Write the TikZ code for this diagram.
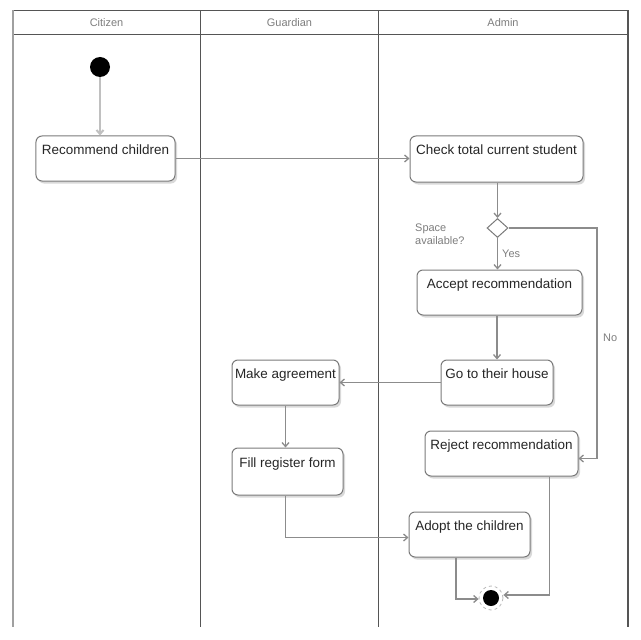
\documentclass[tikz,border=0pt]{standalone}
\usepackage{fontspec}
\setmainfont{Liberation Sans}
\usetikzlibrary{arrows.meta,shapes.geometric,shadows}
\definecolor{lane}{HTML}{555555}
\definecolor{laneleft}{HTML}{A0A0A0}
\definecolor{boxline}{HTML}{7A7A7A}
\definecolor{flow}{HTML}{8C8C8C}
\definecolor{note}{HTML}{7E7E7E}
\definecolor{boxtext}{HTML}{262626}
\tikzset{
  lanerule/.style={draw=lane, line width=1.5bp},
  lanehead/.style={font=\fontsize{11}{13}\selectfont, text=note},
  action/.style={draw=boxline, line width=1bp, rounded corners=6bp, fill=white,
    minimum height=45bp, text height=12bp, text depth=20bp, inner ysep=6.5bp, inner xsep=2bp,
    font=\fontsize{13.5}{15}\selectfont, text=boxtext,
    drop shadow={shadow xshift=2bp, shadow yshift=-2.5bp, opacity=0.15, fill=black}},
  flowline/.style={draw=flow, line width=1.3bp, -{Straight Barb[length=4bp,width=7bp]}},
  guard/.style={font=\fontsize{11}{12.5}\selectfont, text=note, inner sep=0pt},
}
\begin{document}
\begin{tikzpicture}[x=1bp, y=-1bp]
  \useasboundingbox (0,0) rectangle (640,640);
  \fill[white] (0,0) rectangle (640,640);

  % swimlane frame
  \draw[lanerule] (13,10.5) -- (628,10.5);
  \draw[lanerule] (13,34.5) -- (628,34.5);
  \draw[draw=laneleft, line width=2bp] (13,10.5) -- (13,627);
  \draw[lanerule] (200.5,10.5) -- (200.5,627);
  \draw[lanerule] (378.5,10.5) -- (378.5,627);
  \draw[lanerule] (628,10.5) -- (628,627);
  \node[lanehead] (hcitizen) at (106.5,22.5) {Citizen};
  \node[lanehead] (hguardian) at (289.5,22.5) {Guardian};
  \node[lanehead] (hadmin) at (503,22.5) {Admin};

  % start and end
  \node[circle, fill=black, minimum size=20bp, inner sep=0pt] (start) at (100,67) {};
  \node[circle, draw=flow!60, dashed, line width=0.8bp, minimum size=24bp, inner sep=0pt] (fin) at (491,598) {};
  \node[circle, fill=black, minimum size=16bp, inner sep=0pt] (fincore) at (491,598) {};

  % actions
  \node[action, minimum width=139bp] (rec) at (105.5,158.5) {Recommend children};
  \node[action, minimum width=173bp, minimum height=46bp] (check) at (496.5,159) {Check total current student};
  \node[action, minimum width=165bp] (accept) at (499.5,292.5) {Accept recommendation};
  \node[action, minimum width=112bp] (go) at (497,382.5) {Go to their house};
  \node[action, minimum width=107bp] (make) at (285.5,382.5) {Make agreement};
  \node[action, minimum width=153bp] (reject) at (501.5,453.5) {Reject recommendation};
  \node[action, minimum width=111bp, minimum height=47bp] (fill) at (287.5,471.5) {Fill register form};
  \node[action, minimum width=121bp] (adopt) at (469.5,534.5) {Adopt the children};

  % decision
  \node[diamond, draw=boxline, line width=1bp, fill=white, minimum width=21bp, minimum height=19bp,
        inner sep=0pt, aspect=1.1] (dia) at (497.5,228) {};
  \node[guard, anchor=north west, align=left] (qspace) at (415,224) {Space\\available?};
  \node[guard, anchor=west] (gyes) at (502,254) {Yes};
  \node[guard, anchor=west] (gno) at (603,338) {No};
  \coordinate (noturn) at (597,0);

  % control flow
  \draw[flowline, draw=flow!55, line width=2bp] (start.south) -- (start.south |- rec.north);
  \draw[flowline] (rec.east) -- (rec.east -| check.west);
  \draw[flowline] (check.south -| dia.north) -- (dia.north);
  \draw[flowline] (dia.south) -- (dia.south |- accept.north);
  \draw[flowline] (go.north |- accept.south) -- (go.north);
  \draw[flowline] (go.west) -- (go.west -| make.east);
  \draw[flowline] (make.south) -- (make.south |- fill.north);
  \draw[flowline] (dia.east) -- (dia.east -| noturn) |- ([yshift=-5bp]reject.east);
  \draw[flowline] (fill.south -| make.south) |- ([yshift=-3bp]adopt.west);
  \draw[flowline] ([xshift=-13.5bp]adopt.south) |- ([yshift=-1bp]fin.west);
  \draw[flowline] ([xshift=48bp]reject.south) |- ([yshift=3bp]fin.east);
\end{tikzpicture}
\end{document}
